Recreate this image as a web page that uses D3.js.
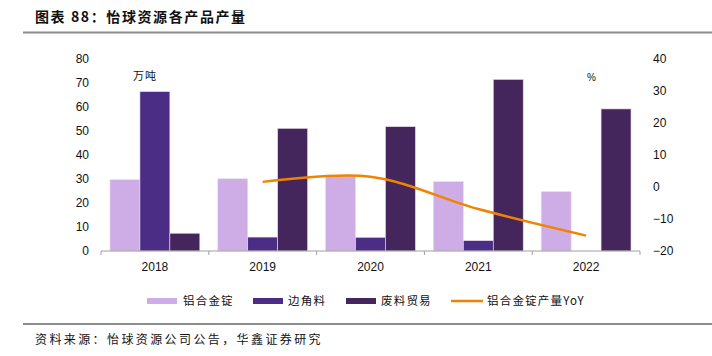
<!DOCTYPE html>
<html><head><meta charset="utf-8">
<script src="https://cdn.jsdelivr.net/npm/d3@7"></script>
<style>body{margin:0;background:#fff}svg{display:block}</style>
</head><body>
<script>
const categories = ["2018","2019","2020","2021","2022"];
const alloyIngot = [29.7, 30.1, 31.2, 28.9, 24.7];
const scrapEdge = [66.4, 5.8, 5.7, 4.3, 0];
const scrapTrade = [7.4, 51.1, 51.8, 71.5, 59.2];
const yoyYears = ["2019","2020","2021","2022"];
const yoyValues = [1.6, 3.2, -6.9, -15.2];
const leftTicks = [0,10,20,30,40,50,60,70,80];
const rightTicks = [-20,-10,0,10,20,30,40];
const seriesNames = ["铝合金锭","边角料","废料贸易","铝合金锭产量YoY"];

const W=712,H=356;
const svg=d3.select("body").append("svg").attr("width",W).attr("height",H);
const cjk="'Noto Sans CJK SC', sans-serif";
const latin="'Liberation Sans', Arial, sans-serif";
const colors=["#CEADE6","#4B2D86","#45265C","#F08300"];

// title
svg.append("text").attr("x",35).attr("y",22).attr("font-family",cjk).attr("font-weight","bold")
  .attr("font-size",14).attr("letter-spacing",1.6).attr("fill","#111").text("图表 88：怡球资源各产品产量");
svg.append("line").attr("x1",23).attr("x2",712).attr("y1",32.5).attr("y2",32.5).attr("stroke","#8c8c8c").attr("stroke-width",2);

const x=d3.scaleBand().domain(categories).range([101,640]).paddingInner(0).paddingOuter(0);
const yL=d3.scaleLinear().domain([0,80]).range([251,59]);
const yR=d3.scaleLinear().domain([-20,40]).range([251,59]);
const xs=d3.scaleBand().domain([0,1,2]).range([0,x.bandwidth()]).paddingOuter(0.3).paddingInner(0);

const series=[alloyIngot,scrapEdge,scrapTrade];
series.forEach((vals,si)=>{
  svg.append("g").selectAll("rect").data(vals).join("rect")
    .attr("x",(d,i)=>x(categories[i])+xs(si))
    .attr("width",xs.bandwidth())
    .attr("y",d=>yL(d))
    .attr("height",d=>yL(0)-yL(d))
    .attr("fill",colors[si])
    .attr("stroke",d=>d>0?"#e6dcef":"none").attr("stroke-width",0.6);
});

// x axis
const gx=svg.append("g").attr("transform","translate(0,251)");
gx.append("line").attr("x1",101).attr("x2",640).attr("stroke","#a0a0a0");
gx.selectAll("line.t").data(d3.range(categories.length+1)).join("line").attr("class","t")
  .attr("x1",i=>101+i*x.bandwidth()).attr("x2",i=>101+i*x.bandwidth()).attr("y1",0).attr("y2",4).attr("stroke","#a0a0a0");
gx.selectAll("text").data(categories).join("text")
  .attr("x",d=>x(d)+x.bandwidth()/2).attr("y",20).attr("text-anchor","middle")
  .attr("font-family",latin).attr("font-size",12).attr("fill","#111").text(d=>d);

// left axis labels
svg.append("g").selectAll("text").data(leftTicks).join("text")
  .attr("x",89).attr("y",d=>yL(d)+4).attr("text-anchor","end")
  .attr("font-family",latin).attr("font-size",12).attr("fill","#111").text(d=>d);
// right axis labels
svg.append("g").selectAll("text").data(rightTicks).join("text")
  .attr("x",653).attr("y",d=>yR(d)+4).attr("text-anchor","start")
  .attr("font-family",latin).attr("font-size",12).attr("fill","#111").text(d=>d<0?"\u2212"+Math.abs(d):d);

svg.append("text").attr("x",133).attr("y",80).attr("font-family",cjk).attr("font-size",11).attr("letter-spacing",1).attr("fill","#111").text("万吨");
svg.append("text").attr("x",587).attr("y",81).attr("font-family",latin).attr("font-size",10).attr("fill","#111").text("%");

// line
const line=d3.line().x((d,i)=>x(yoyYears[i])+x.bandwidth()/2).y(d=>yR(d)).curve(d3.curveCatmullRom.alpha(0.5));
svg.append("path").datum(yoyValues).attr("d",line).attr("fill","none").attr("stroke",colors[3]).attr("stroke-width",2.5);

// legend
const lg=svg.append("g");
const items=[{x:147,tx:183},{x:253,tx:288},{x:346,tx:381},{x:451,tx:487}];
items.forEach((it,i)=>{
  if(i<3) lg.append("rect").attr("x",it.x).attr("y",298).attr("width",30).attr("height",6).attr("fill",colors[i]);
  else lg.append("line").attr("x1",it.x).attr("x2",it.x+32).attr("y1",301).attr("y2",301).attr("stroke",colors[3]).attr("stroke-width",2.5);
  lg.append("text").attr("x",it.tx).attr("y",305).attr("font-family",cjk).attr("font-size",11.5).attr("letter-spacing",1.2).attr("fill","#111").text(seriesNames[i]);
});

svg.append("line").attr("x1",23).attr("x2",712).attr("y1",324).attr("y2",324).attr("stroke","#8c8c8c").attr("stroke-width",2);
svg.append("text").attr("x",35).attr("y",344).attr("font-family",cjk).attr("font-size",12).attr("letter-spacing",2.4).attr("fill","#111").text("资料来源：怡球资源公司公告，华鑫证券研究");
</script>
</body></html>
